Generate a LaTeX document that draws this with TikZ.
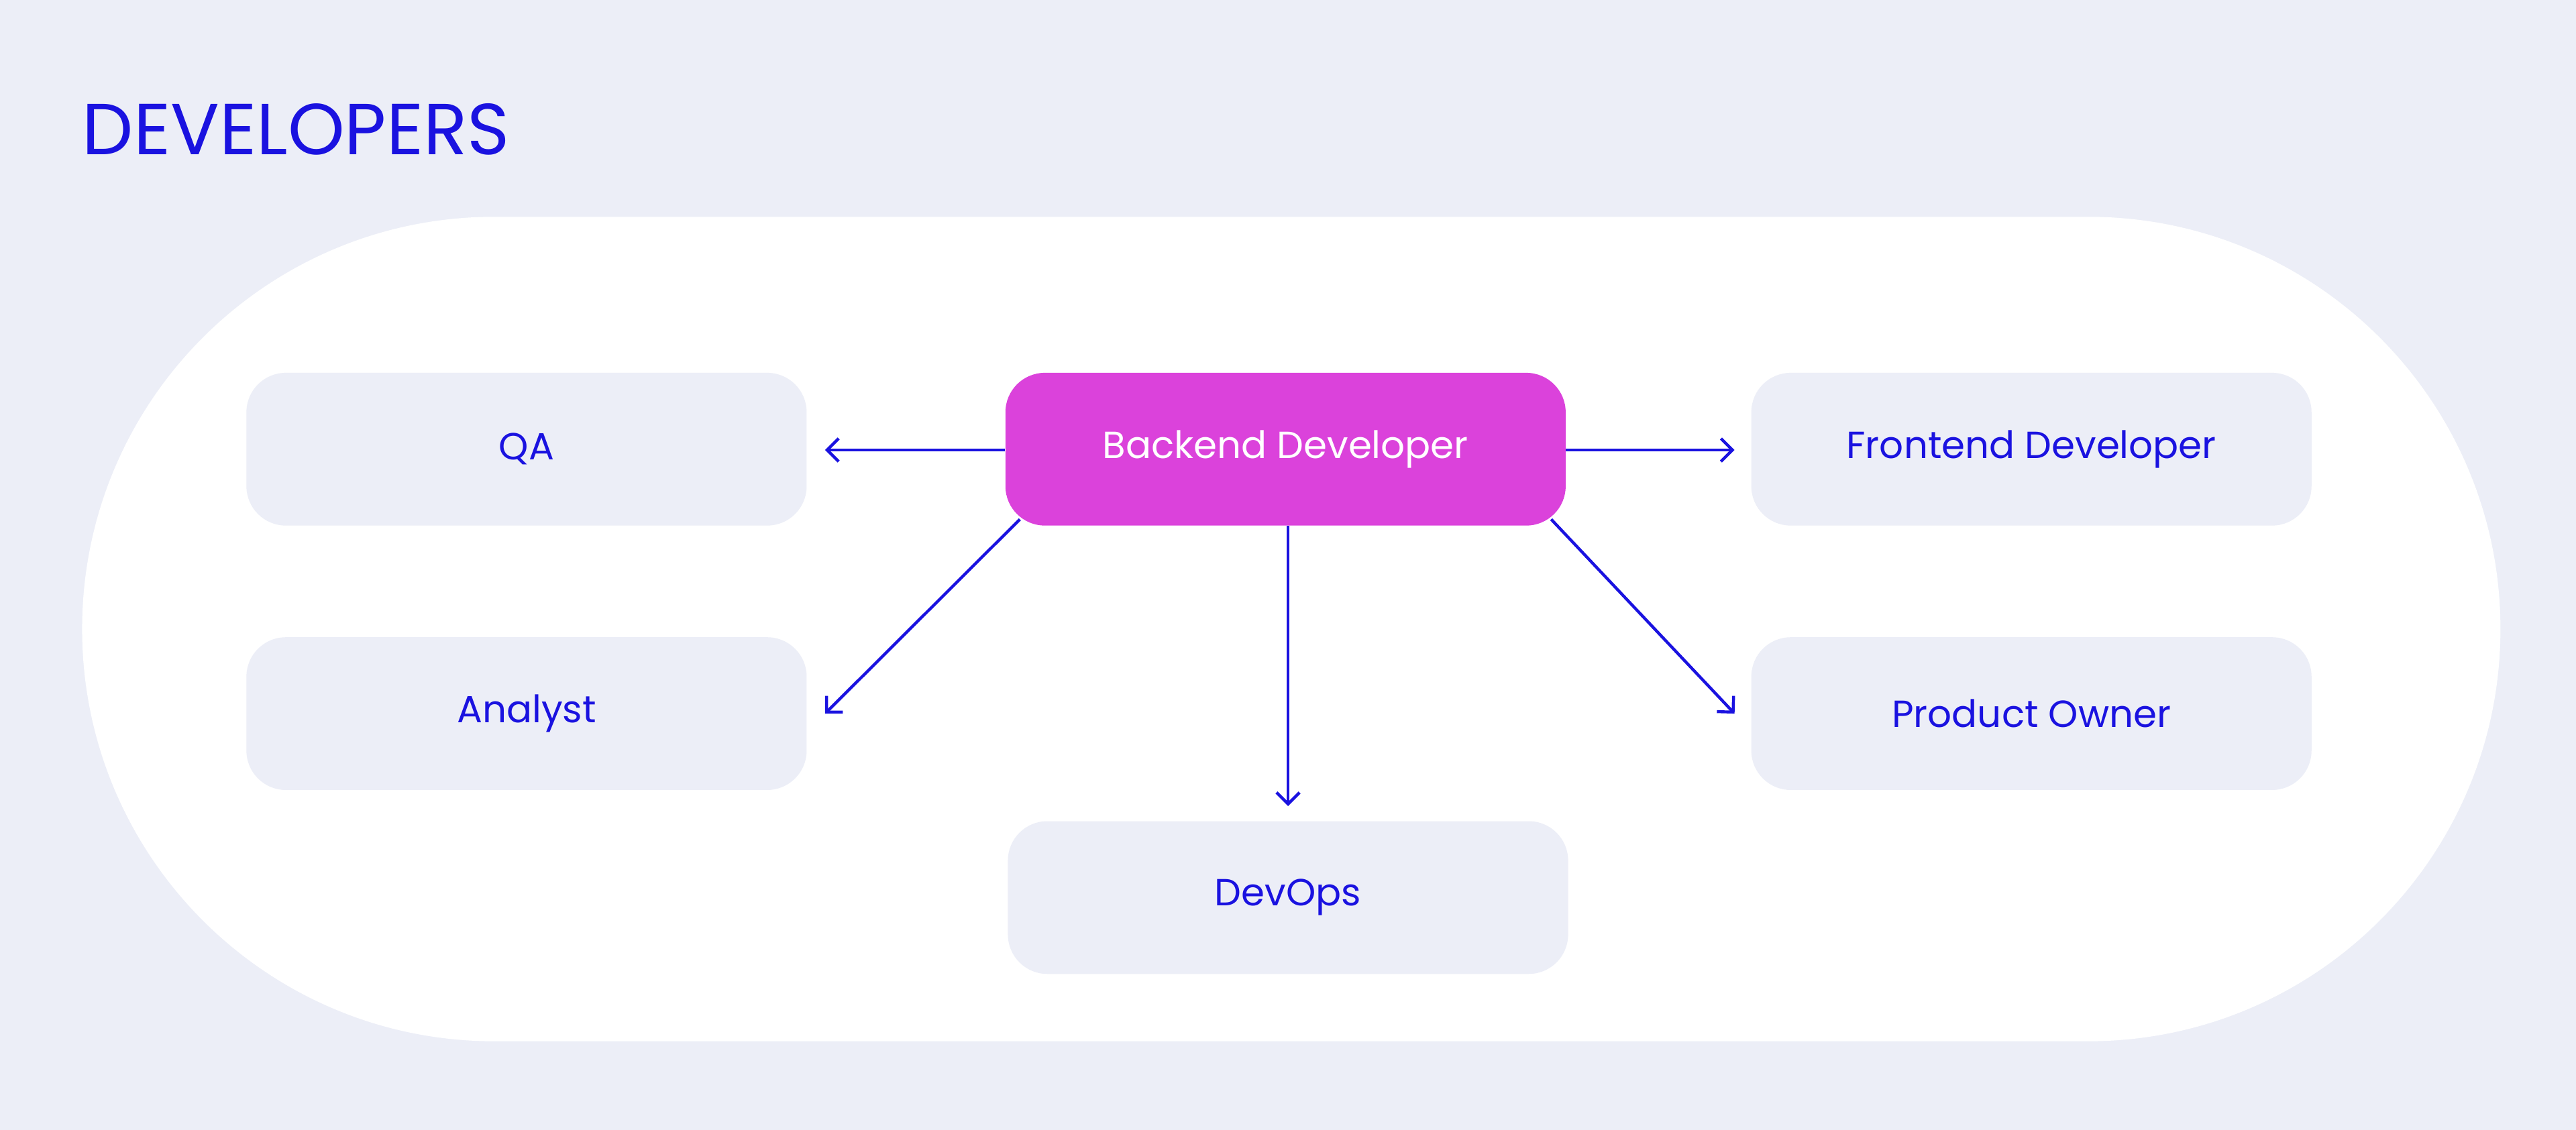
\documentclass[tikz,border=0pt]{standalone}
\usepackage{fontspec}
\setmainfont{Poppins}
\usetikzlibrary{arrows.meta,backgrounds}
\definecolor{bgc}{HTML}{ECEEF7}
\definecolor{bluec}{HTML}{1A12E0}
\definecolor{magc}{HTML}{DB42DB}
\begin{document}
\begin{tikzpicture}[x=1pt,y=-1pt,
  box/.style={rounded corners=24pt,fill=bgc,minimum width=341pt,minimum height=93pt,inner sep=0pt,text=bluec,font=\fontsize{23}{26}\selectfont},
  conn/.style={draw=bluec,line width=1.8pt,-{Straight Barb[length=7pt,width=14pt,line width=1.8pt]}}]
\useasboundingbox (0,0) rectangle (1568,688);
\fill[bgc] (0,0) rectangle (1568,688);
\fill[white,rounded corners=251pt] (50,132) rectangle (1522,634);
\node[anchor=base west,text=bluec,inner sep=0pt,font=\fontsize{44}{48}\selectfont] (title) at (50,94) {DEVELOPERS};
\node[box] (qa) at (320.5,273.5) {QA};
\node[box] (an) at (320.5,434.5) {Analyst};
\node[box,fill=magc,text=white] (b) at (782.5,273.5) {Backend Developer};
\node[box] (fe) at (1236.5,273.5) {Frontend Developer};
\node[box] (po) at (1236.5,434.5) {Product Owner};
\node[box] (dv) at (784,546.5) {DevOps};
\draw[conn] (b.west |- 0,274) -- ([xshift=11pt]qa.east |- 0,274);
\draw[conn] (b.east |- 0,274) -- ([xshift=-10pt]fe.west |- 0,274);
\draw[conn] ([shift={(9,-4)}]b.south west) -- ([xshift=11pt]an.east);
\draw[conn] ([shift={(-9,-4)}]b.south east) -- ([xshift=-10pt]po.west);
\draw[conn] (b.south -| dv.north) -- ([yshift=9pt]dv.north);
\end{tikzpicture}
\end{document}
